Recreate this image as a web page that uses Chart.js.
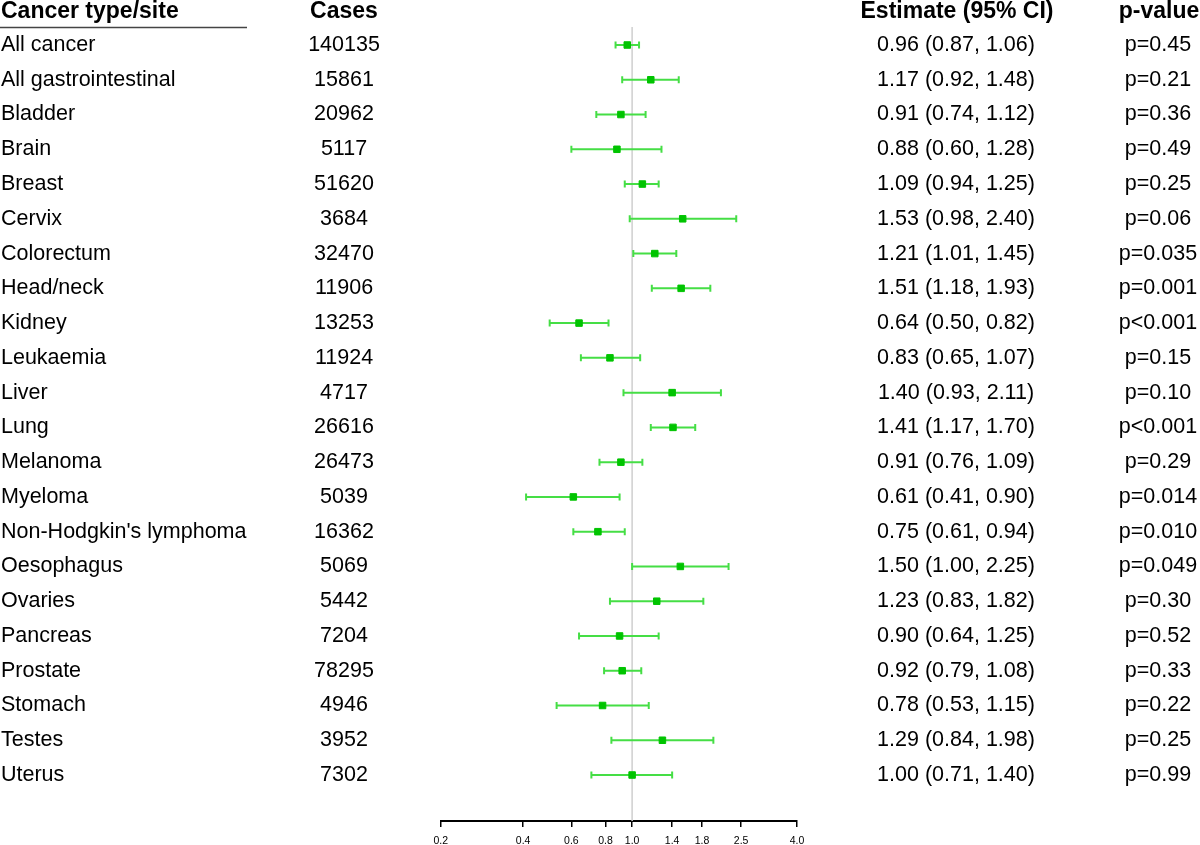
<!DOCTYPE html>
<html>
<head>
<meta charset="utf-8">
<script src="https://cdn.jsdelivr.net/npm/chart.js@4.4.1/dist/chart.umd.min.js"></script>
<style>
  html, body { margin: 0; padding: 0; background: #fff; }
  #wrap { width: 1200px; height: 845px; position: relative; }
</style>
</head>
<body>
<div id="wrap"><canvas id="forest"></canvas></div>
<script>
// Forest plot data
var sites = ['All cancer', 'All gastrointestinal', 'Bladder', 'Brain', 'Breast', 'Cervix',
    'Colorectum', 'Head/neck', 'Kidney', 'Leukaemia', 'Liver', 'Lung', 'Melanoma', 'Myeloma',
    "Non-Hodgkin's lymphoma", 'Oesophagus', 'Ovaries', 'Pancreas', 'Prostate', 'Stomach',
    'Testes', 'Uterus'];
var cases = [140135, 15861, 20962, 5117, 51620, 3684, 32470, 11906, 13253, 11924, 4717,
    26616, 26473, 5039, 16362, 5069, 5442, 7204, 78295, 4946, 3952, 7302];
var estimate = [0.96, 1.17, 0.91, 0.88, 1.09, 1.53, 1.21, 1.51, 0.64, 0.83, 1.40, 1.41, 0.91,
    0.61, 0.75, 1.50, 1.23, 0.90, 0.92, 0.78, 1.29, 1.00];
var lower = [0.87, 0.92, 0.74, 0.60, 0.94, 0.98, 1.01, 1.18, 0.50, 0.65, 0.93, 1.17, 0.76,
    0.41, 0.61, 1.00, 0.83, 0.64, 0.79, 0.53, 0.84, 0.71];
var upper = [1.06, 1.48, 1.12, 1.28, 1.25, 2.40, 1.45, 1.93, 0.82, 1.07, 2.11, 1.70, 1.09,
    0.90, 0.94, 2.25, 1.82, 1.25, 1.08, 1.15, 1.98, 1.40];
var pValues = ['p=0.45', 'p=0.21', 'p=0.36', 'p=0.49', 'p=0.25', 'p=0.06', 'p=0.035',
    'p=0.001', 'p<0.001', 'p=0.15', 'p=0.10', 'p<0.001', 'p=0.29', 'p=0.014', 'p=0.010',
    'p=0.049', 'p=0.30', 'p=0.52', 'p=0.33', 'p=0.22', 'p=0.25', 'p=0.99'];
var xTicks = [0.2, 0.4, 0.6, 0.8, 1.0, 1.4, 1.8, 2.5, 4.0];
var refValue = 1;

var lineGreen = '#45de45';
var dotGreen = '#00c400';
var bodyFont = '21.5px "Liberation Sans", Arial, sans-serif';
var headFont = 'bold 23px "Liberation Sans", Arial, sans-serif';

// Reference line + confidence intervals, drawn under the squares
var intervalPlugin = {
    id: 'intervals',
    beforeDatasetsDraw: function (chart) {
        var ctx = chart.ctx, xs = chart.scales.x, ys = chart.scales.y, area = chart.chartArea;
        ctx.save();
        var rx = xs.getPixelForValue(refValue);
        ctx.strokeStyle = '#cfcfcf';
        ctx.lineWidth = 1.5;
        ctx.beginPath();
        ctx.moveTo(rx, area.top);
        ctx.lineTo(rx, area.bottom);
        ctx.stroke();

        ctx.strokeStyle = lineGreen;
        ctx.lineWidth = 2;
        for (var i = 0; i < estimate.length; i++) {
            var y = ys.getPixelForValue(i);
            var x0 = xs.getPixelForValue(lower[i]);
            var x1 = xs.getPixelForValue(upper[i]);
            ctx.beginPath();
            ctx.moveTo(x0, y); ctx.lineTo(x1, y);
            ctx.moveTo(x0, y - 3.5); ctx.lineTo(x0, y + 3.5);
            ctx.moveTo(x1, y - 3.5); ctx.lineTo(x1, y + 3.5);
            ctx.stroke();
        }
        ctx.restore();
    }
};

// Table columns on both sides of the plot
var tablePlugin = {
    id: 'table',
    afterDraw: function (chart) {
        var ctx = chart.ctx, ys = chart.scales.y;
        ctx.save();
        ctx.fillStyle = '#000';
        ctx.textBaseline = 'middle';

        ctx.font = headFont;
        ctx.textAlign = 'left';
        ctx.fillText('Cancer type/site', 1, 12);
        ctx.textAlign = 'center';
        ctx.fillText('Cases', 344, 12);
        ctx.fillText('Estimate (95% CI)', 957, 12);
        ctx.fillText('p-value', 1159, 12);

        ctx.strokeStyle = '#444';
        ctx.lineWidth = 1.5;
        ctx.beginPath();
        ctx.moveTo(0, 27.5); ctx.lineTo(247, 27.5);
        ctx.stroke();

        ctx.font = bodyFont;
        for (var i = 0; i < sites.length; i++) {
            var y = ys.getPixelForValue(i);
            ctx.textAlign = 'left';
            ctx.fillText(sites[i], 1, y);
            ctx.textAlign = 'center';
            ctx.fillText(String(cases[i]), 344, y);
            var txt = estimate[i].toFixed(2) + ' (' + lower[i].toFixed(2) + ', ' + upper[i].toFixed(2) + ')';
            ctx.fillText(txt, 956, y);
            ctx.fillText(pValues[i], 1158, y);
        }
        ctx.restore();
    }
};

new Chart(document.getElementById('forest'), {
    type: 'scatter',
    data: {
        datasets: [{
            data: estimate.map(function (e, i) { return { x: e, y: i }; }),
            pointStyle: 'rect',
            pointRadius: 4.6,
            backgroundColor: dotGreen,
            borderColor: dotGreen,
            borderWidth: 1
        }]
    },
    options: {
        animation: false,
        responsive: true,
        maintainAspectRatio: false,
        layout: { padding: { left: 440.7, right: 403, top: 27, bottom: 0 } },
        plugins: { legend: { display: false }, tooltip: { enabled: false } },
        scales: {
            x: {
                type: 'logarithmic',
                min: 0.2,
                max: 4.0,
                afterBuildTicks: function (scale) {
                    scale.ticks = xTicks.map(function (v) { return { value: v }; });
                },
                afterFit: function (scale) { scale.height = 24; },
                ticks: {
                    autoSkip: false,
                    maxRotation: 0,
                    padding: 8,
                    color: '#000',
                    font: { size: 10.5, family: '"Liberation Sans", Arial, sans-serif' },
                    callback: function (v) { return Number(v).toFixed(1); }
                },
                grid: { drawOnChartArea: false, drawTicks: true, tickLength: 6, color: '#000', lineWidth: 1.5 },
                border: { color: '#000', width: 2 }
            },
            y: {
                type: 'linear',
                display: false,
                reverse: true,
                min: -0.518,
                max: 22.323
            }
        }
    },
    plugins: [intervalPlugin, tablePlugin]
});
</script>
</body>
</html>
